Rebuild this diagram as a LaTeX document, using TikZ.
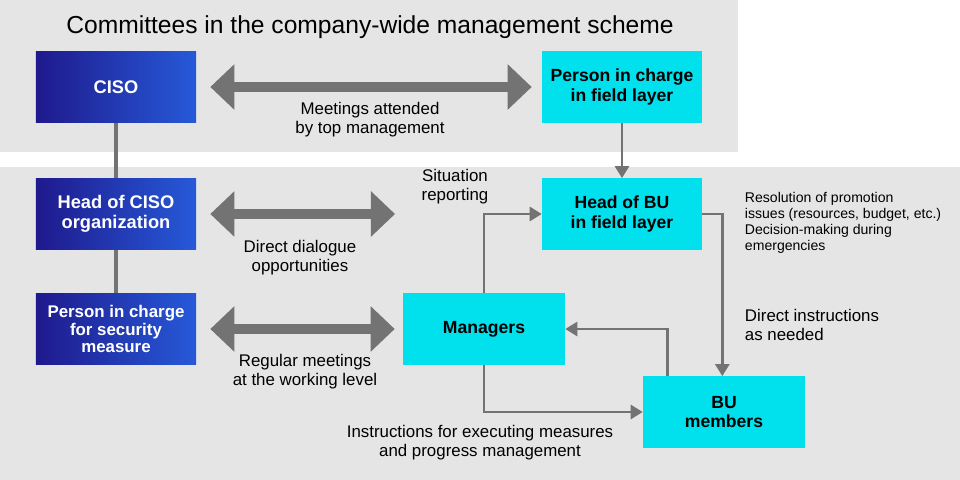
\documentclass[tikz,border=0pt]{standalone}
\usepackage{fontspec}
\setmainfont{Liberation Sans}
\usetikzlibrary{arrows.meta,calc}
\definecolor{panel}{rgb}{0.9,0.9,0.9}
\definecolor{navy1}{rgb}{0.12,0.10,0.55}
\definecolor{navy2}{rgb}{0.15,0.35,0.85}
\definecolor{cyan1}{rgb}{0.0,0.88,0.93}
\definecolor{arr}{rgb}{0.45,0.45,0.45}
\begin{document}
\begin{tikzpicture}[x=0.025cm,y=-0.025cm,
    ciso/.style={draw=none,left color=navy1,right color=navy2,text=white,font=\bfseries\fontsize{13}{14}\selectfont,
      minimum width=4cm,minimum height=1.78cm,align=center,inner sep=1pt},
    field/.style={fill=cyan1,font=\bfseries\fontsize{12.5}{14}\selectfont,minimum width=4cm,minimum height=1.78cm,align=center,inner sep=1pt},
    big/.style={arr,line width=7pt,{Triangle[length=0.6cm,width=1.1cm]}-{Triangle[length=0.6cm,width=1.1cm]}},
    con/.style={arr,line width=2pt,-{Triangle[length=0.3cm,width=0.35cm]}},
    lbl/.style={align=center,font=\fontsize{12}{13.5}\selectfont}]
    \useasboundingbox (0,0) rectangle (960,480);
    \fill[panel] (0,0) rectangle (738,152);
    \fill[panel] (0,167) rectangle (960,480);
    \node[font=\fontsize{17.5}{19}\selectfont] (title) at (370,27) {Committees in the company-wide management scheme};

    \draw[arr,line width=3pt] (116,122) -- (116,293);
    \node[ciso] (ciso) at (116,87) {CISO};
    \node[ciso] (head) at (116,214) {Head of CISO\\organization};
    \node[ciso,font=\bfseries\fontsize{12}{12.5}\selectfont] (pic) at (116,329) {Person in charge\\for security\\measure};

    \node[field] (pfl) at (622,87) {Person in charge\\in field layer};
    \node[field] (hbu) at (622,214) {Head of BU\\in field layer};
    \node[field,minimum width=4.05cm] (mgr) at (484,329) {Managers};
    \node[field,minimum width=4.05cm] (bum) at (724,412) {BU\\members};

    % double arrows
    \draw[big] (ciso.east)++(14,0) coordinate (a1) -- ($(pfl.west)+(-10,0)$) coordinate (a2);
    \draw[big] ($(head.east)+(14,0)$) coordinate (b1) -- (395,214) coordinate (b2);
    \draw[big] ($(pic.east)+(14,0)$) coordinate (c1) -- ($(mgr.west)+(-8,0)$) coordinate (c2);
    \node[lbl] (l1) at (370,120) {Meetings attended\\by top management};
    \node[lbl] (l2) at (300,258) {Direct dialogue\\opportunities};
    \node[lbl] (l3) at (305,372) {Regular meetings\\at the working level};

    % connectors
    \draw[con] (pfl) -- (hbu);
    \draw[con] (mgr.north) |- (hbu.west);
    \draw[con] (hbu.east) -- ++(20,0) coordinate (h1) -- (h1 |- bum.north);
    \draw[con] ($(bum.north west)+(25,0)$) |- (mgr.east);
    \draw[con] (mgr.south) |- (bum.west);

    \node[lbl] (l4) at (455,187) {Situation\\reporting};
    \node[lbl,align=left,anchor=west,font=\fontsize{10}{11.5}\selectfont] (l5) at (740,223)
      {Resolution of promotion\\issues (resources, budget, etc.)\\Decision-making during\\emergencies};
    \node[lbl,align=left,anchor=west] (l6) at (740,325) {Direct instructions\\as needed};
    \node[lbl] (l7) at (480,443) {Instructions for executing measures\\and progress management};
\end{tikzpicture}
\end{document}
